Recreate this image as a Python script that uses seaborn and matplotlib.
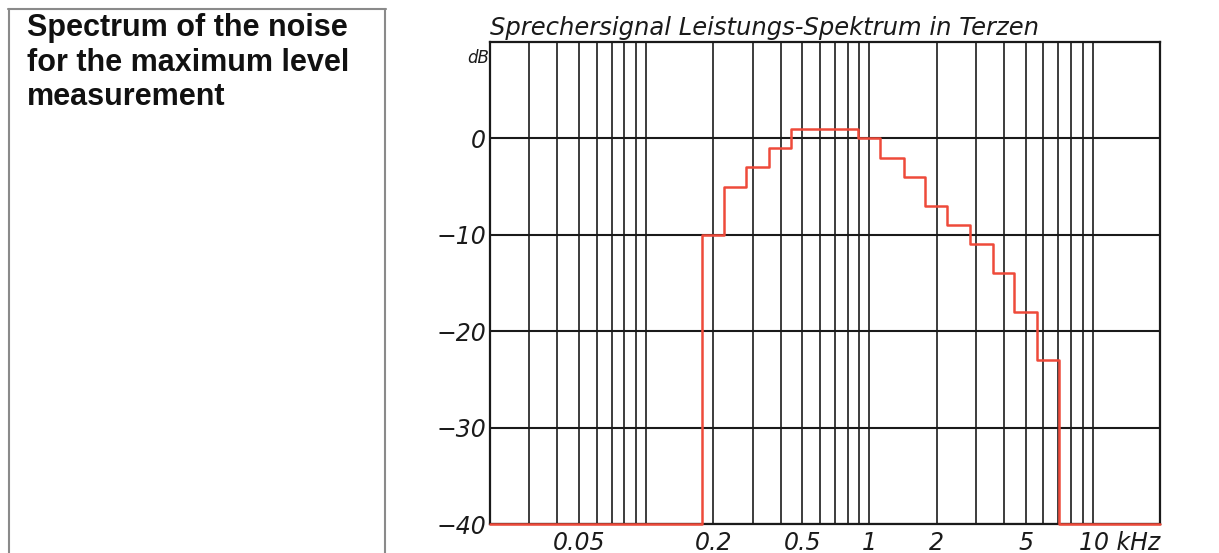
import numpy as np
import matplotlib
matplotlib.use("Agg")
import matplotlib.pyplot as plt
import matplotlib.transforms as mtransforms
from matplotlib.lines import Line2D
from matplotlib.ticker import FixedLocator, LogLocator, NullFormatter
import seaborn as sns
import pandas as pd

# ---- data (third-octave bands, kHz / dB) ----
band_centers_khz = [0.2, 0.25, 0.315, 0.4, 0.5, 0.63, 0.8, 1.0, 1.25, 1.6,
                    2.0, 2.5, 3.15, 4.0, 5.0, 6.3]
levels_db = [-10, -5, -3, -1, 1, 1, 1, 0, -2, -4, -7, -9, -11, -14, -18, -23]
floor_db = -40
f_min_khz, f_max_khz = 0.02, 20.0
x_tick_values = [0.05, 0.2, 0.5, 1, 2, 5, 10]
x_tick_labels = ["0.05", "0.2", "0.5", "1", "2", "5", "10 kHz"]
y_tick_values = [-40, -30, -20, -10, 0]
y_tick_labels = ["\u221240", "\u221230", "\u221220", "\u221210", "0"]
title_text = "Sprechersignal Leistungs-Spektrum in Terzen"
side_text = "Spectrum of the noise\nfor the maximum level\nmeasurement"

# step outline built from band edges
third = 2 ** (1 / 6)
lower_edges = [c / third for c in band_centers_khz]
upper_edge = band_centers_khz[-1] * third
step_f = [f_min_khz] + lower_edges + [upper_edge, f_max_khz]
step_L = [floor_db] + levels_db + [floor_db, floor_db]
df = pd.DataFrame({"f": step_f, "L": step_L})

sns.set_theme(style="white")
plt.rcParams["font.family"] = ["DejaVu Sans"]

W, H = 1219, 553
fig = plt.figure(figsize=(W / 100, H / 100), dpi=100)
ax = fig.add_axes([490 / W, 1 - 524 / H, (1160 - 490) / W, (524 - 42) / H])

sns.lineplot(data=df, x="f", y="L", drawstyle="steps-post", sort=False,
             estimator=None, color="#ee4a3a", linewidth=1.8, ax=ax,
             zorder=5, clip_on=False)

ax.set_xscale("log")
ax.set_xlim(f_min_khz, f_max_khz)
ax.set_ylim(floor_db, 10)

ax.xaxis.set_major_locator(FixedLocator(x_tick_values))
ax.set_xticklabels(x_tick_labels)
ax.xaxis.set_minor_locator(LogLocator(base=10, subs=np.arange(1, 10), numticks=50))
ax.xaxis.set_minor_formatter(NullFormatter())
ax.set_yticks(y_tick_values)
ax.set_yticklabels(y_tick_labels)

ax.grid(True, which="both", axis="x", color="#1a1a1a", linewidth=1.4, alpha=0.85)
ax.grid(True, which="major", axis="y", color="#1a1a1a", linewidth=1.5)
ax.tick_params(axis="both", which="both", length=0)
ax.tick_params(axis="x", pad=5)
ax.tick_params(axis="y", pad=3)
for lab in ax.get_xticklabels() + ax.get_yticklabels():
    lab.set_fontstyle("italic")
    lab.set_fontsize(17)
    lab.set_color("#1a1a1a")
# shift "10 kHz" so that "10" sits under its grid line
last = ax.get_xticklabels()[-1]
last.set_horizontalalignment("left")
last.set_transform(last.get_transform() + mtransforms.ScaledTranslation(-14 / 100, 0, fig.dpi_scale_trans))

for s in ax.spines.values():
    s.set_visible(True)
    s.set_color("#1a1a1a")
    s.set_linewidth(1.6)

ax.set_xlabel("")
ax.set_ylabel("")
ax.set_title(title_text, loc="left", fontsize=17.5, fontstyle="italic",
             color="#1a1a1a", pad=5)
ax.text(-0.001, 0.967, "dB", transform=ax.transAxes, ha="right", va="center",
        fontsize=12, fontstyle="italic", color="#1a1a1a")

# left text box
box_color = "#8a8a8a"
fig.add_artist(Line2D([8 / W, 386 / W], [1 - 9 / H, 1 - 9 / H], color=box_color, lw=1.5))
fig.add_artist(Line2D([9 / W, 9 / W], [1 - 9 / H, 0], color=box_color, lw=1.5))
fig.add_artist(Line2D([385 / W, 385 / W], [1 - 9 / H, 0], color=box_color, lw=1.5))
fig.text(27 / W, 1 - 13 / H, side_text, ha="left", va="top", fontsize=22,
         fontweight="bold", family="Liberation Sans", color="#111111", linespacing=1.2)

fig.savefig("out.png", dpi=100)
